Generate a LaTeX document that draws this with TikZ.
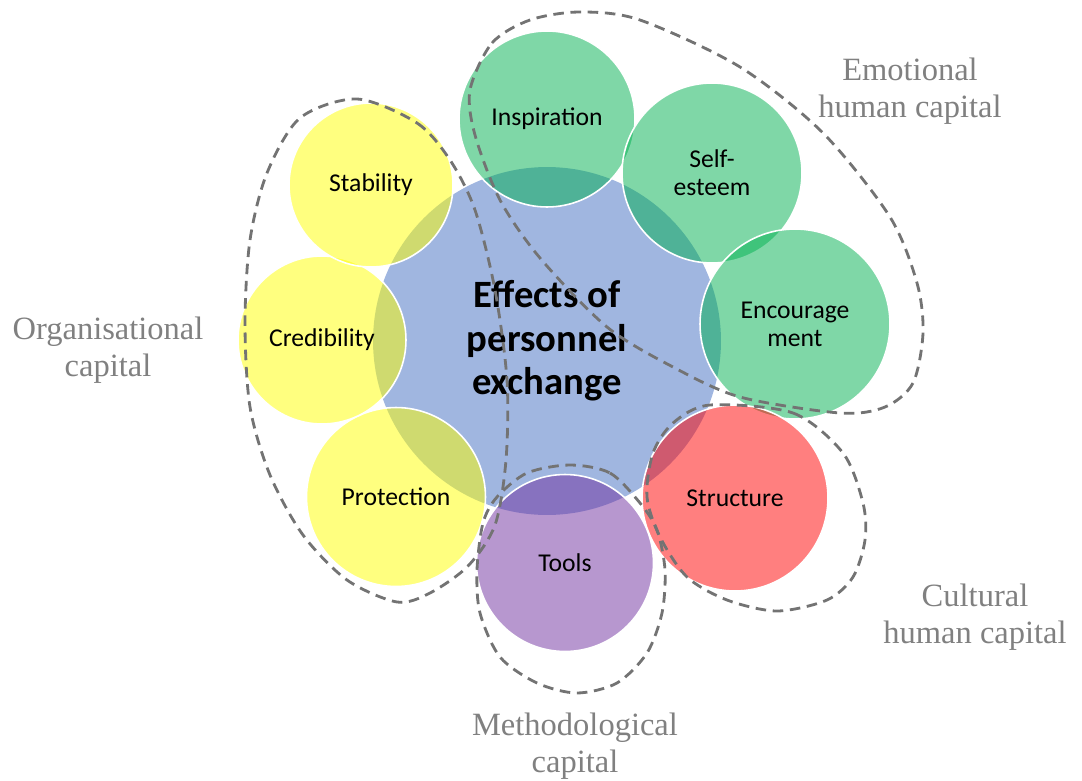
\documentclass[tikz,border=0pt]{standalone}
\usepackage{fontspec}
\usepackage{xcolor}
\setmainfont{Carlito}
\newfontfamily\capfont{Liberation Serif}
\definecolor{coreblue}{RGB}{160,182,224}
\definecolor{petgreen}{RGB}{0,176,80}
\definecolor{petyellow}{RGB}{255,255,0}
\definecolor{petred}{RGB}{255,0,0}
\definecolor{petpurple}{RGB}{112,48,160}
\definecolor{dashgray}{RGB}{115,115,115}
\definecolor{capgray}{RGB}{128,128,128}

\begin{document}
\begin{tikzpicture}[x=0.02cm, y=-0.02cm,
        petal/.style={circle, draw=white, line width=0.9pt, fill opacity=0.5, text opacity=1,
            inner sep=0pt, align=center, font=\fontsize{14.6}{15.9}\selectfont},
        grouping/.style={dashgray, line width=1.6pt, dash pattern=on 6pt off 3.8pt},
        capital/.style={capgray, align=center, font=\capfont\fontsize{18.5}{21}\selectfont}]
        \useasboundingbox (0,0) rectangle (1082,781);

        % Centre
        \node[circle, fill=coreblue, minimum size=6.96cm, inner sep=0pt, align=center,
            font=\bfseries\fontsize{22}{24.7}\selectfont] (core) at (547,341) {Effects of\\personnel\\exchange};

        % Petals
        \node[petal, fill=petgreen, minimum size=3.52cm] (insp) at (547,119) {Inspiration};
        \node[petal, fill=petgreen, minimum size=3.6cm] (self) at (712,173) {Self-\\esteem};
        \node[petal, fill=petgreen, minimum size=3.8cm] (enc) at (795,324) {Encourage\\ment};
        \node[petal, fill=petred, minimum size=3.72cm] (struc) at (735,498) {Structure};
        \node[petal, fill=petpurple, minimum size=3.54cm] (tools) at (565,563) {Tools};
        \node[petal, fill=petyellow, minimum size=3.58cm] (prot) at (396,497) {Protection};
        \node[petal, fill=petyellow, minimum size=3.36cm] (cred) at (322,340) {Credibility};
        \node[petal, fill=petyellow, minimum size=3.28cm] (stab) at (371,185) {Stability};

        % Groups
        \draw[grouping] plot[smooth cycle] coordinates {(357,99) (417,123) (450,160) (475,210)
            (495,290) (507,380) (506,460) (495,525) (468,566) (430,593) (397,602) (347,580)
            (303,535) (270,475) (250,407) (245,323) (250,240) (267,173) (300,118)};
        \draw[grouping] plot[smooth cycle] coordinates {(470,90) (492,43) (530,20) (580,12)
            (640,20) (740,67) (823,133) (890,217) (917,283) (923,333) (913,383) (885,407)
            (840,413) (740,397) (673,367) (607,327) (540,258) (500,200) (475,135)};
        \draw[grouping] plot[smooth cycle] coordinates {(710,405) (793,413) (843,453) (863,503)
            (865,540) (853,577) (827,600) (777,611) (727,600) (687,577) (660,537) (647,497)
            (653,453) (673,423)};
        \draw[grouping] plot[smooth cycle] coordinates {(570,465) (610,473) (640,503) (657,530)
            (665,570) (662,613) (647,653) (617,683) (577,693) (537,683) (500,657) (480,613)
            (477,570) (483,523) (497,497) (527,473)};

        % Labels
        \node[capital] (orgcap) at (108,350) {Organisational\\capital};
        \node[capital] (emocap) at (910,91) {Emotional\\human capital};
        \node[capital] (culcap) at (975,617) {Cultural\\human capital};
        \node[capital] (metcap) at (575,746) {Methodological\\capital};
\end{tikzpicture}
\end{document}
